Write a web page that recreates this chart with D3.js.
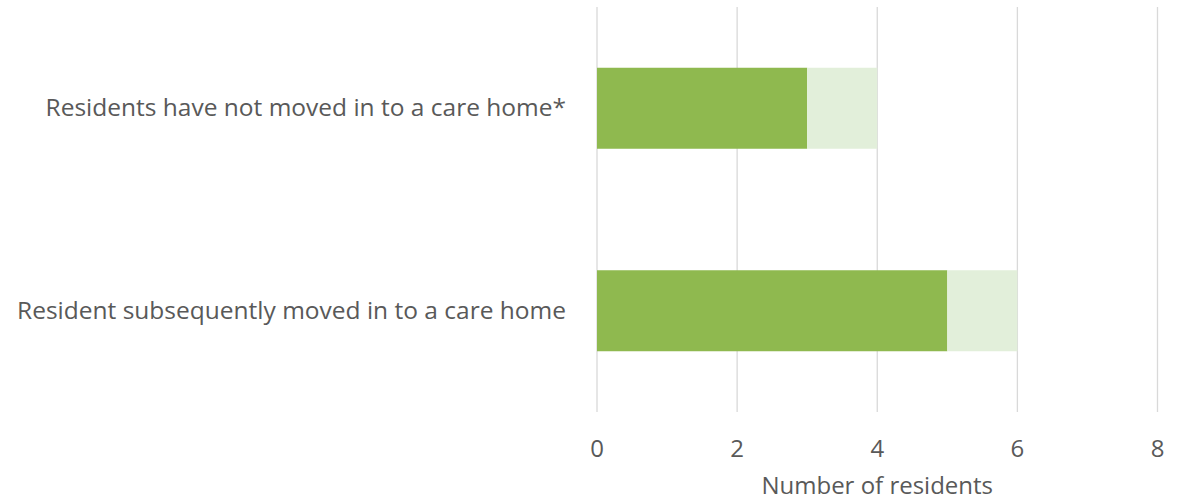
<!DOCTYPE html>
<meta charset="utf-8">
<script src="https://d3js.org/d3.v7.min.js"></script>
<style>
  body { margin: 0; background: #fff; }
  text { font-family: "Open Sans", sans-serif; fill: #595959; }
</style>
<div id="my_dataviz"></div>

<script>
// data
var categories = ["Residents have not moved in to a care home*", "Resident subsequently moved in to a care home"];
var mainValues = [3, 5];     // dark green part
var extraValues = [1, 1];    // light green part on top
var tickValues = [0, 2, 4, 6, 8];
var axisTitle = "Number of residents";

var width = 1182, height = 502;
var margin = {top: 7, right: 24.5, bottom: 90, left: 597};

var svg = d3.select("#my_dataviz")
  .append("svg")
    .attr("width", width)
    .attr("height", height);

var x = d3.scaleLinear()
    .domain([0, 8])
    .range([margin.left, width - margin.right]);

var y = d3.scaleBand()
    .domain(categories)
    .range([margin.top, height - margin.bottom])
    .paddingInner(0.6)
    .paddingOuter(0.3);

// gridlines
svg.append("g")
  .selectAll("line")
  .data(tickValues)
  .enter()
  .append("line")
    .attr("x1", function(d) { return x(d); })
    .attr("x2", function(d) { return x(d); })
    .attr("y1", margin.top)
    .attr("y2", height - margin.bottom)
    .attr("stroke", "#d9d9d9")
    .attr("stroke-width", 1.3);

// dark bars
svg.append("g")
  .selectAll("rect")
  .data(categories)
  .enter()
  .append("rect")
    .attr("x", x(0))
    .attr("y", function(d) { return y(d); })
    .attr("width", function(d, i) { return x(mainValues[i]) - x(0); })
    .attr("height", y.bandwidth())
    .attr("fill", "#8fb94f");

// light bars
svg.append("g")
  .selectAll("rect")
  .data(categories)
  .enter()
  .append("rect")
    .attr("x", function(d, i) { return x(mainValues[i]); })
    .attr("y", function(d) { return y(d); })
    .attr("width", function(d, i) { return x(mainValues[i] + extraValues[i]) - x(mainValues[i]); })
    .attr("height", y.bandwidth())
    .attr("fill", "#e2efda");

// category labels
svg.append("g")
  .selectAll("text")
  .data(categories)
  .enter()
  .append("text")
    .attr("x", x(0) - 31)
    .attr("y", function(d) { return y(d) + y.bandwidth() / 2 + 8; })
    .attr("text-anchor", "end")
    .style("font-size", "24.5px")
    .text(function(d) { return d; });

// x tick labels
svg.append("g")
  .selectAll("text")
  .data(tickValues)
  .enter()
  .append("text")
    .attr("x", function(d) { return x(d); })
    .attr("y", 457)
    .attr("text-anchor", "middle")
    .style("font-size", "24px")
    .text(function(d) { return d; });

// axis title
svg.append("text")
  .attr("x", x(4))
  .attr("y", 494)
  .attr("text-anchor", "middle")
  .style("font-size", "24px")
  .text(axisTitle);
</script>
